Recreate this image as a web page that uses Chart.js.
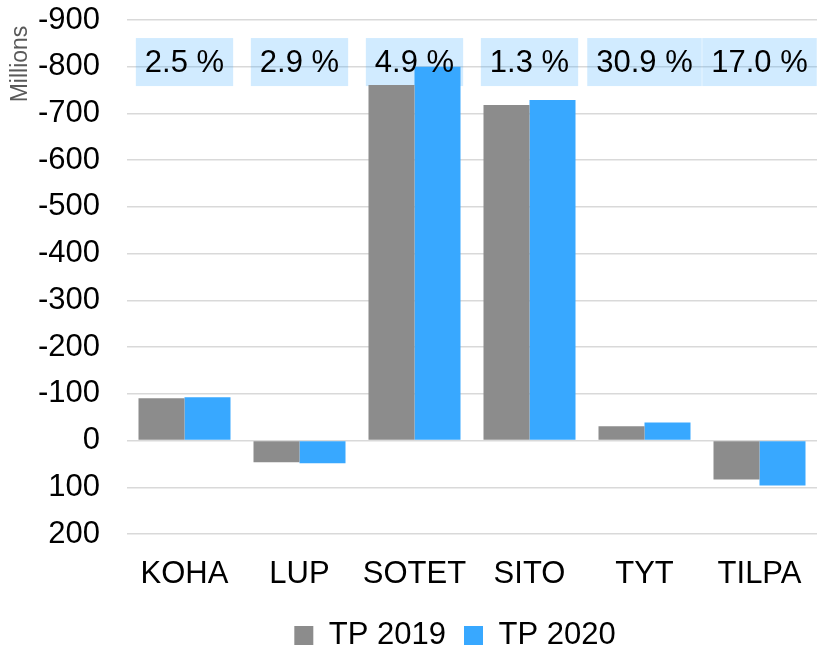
<!DOCTYPE html>
<html>
<head>
<meta charset="utf-8">
<script src="https://cdn.jsdelivr.net/npm/chart.js@4.4.1/dist/chart.umd.min.js"></script>
<style>
html,body{margin:0;padding:0;background:#fff;}
#wrap{width:817px;height:646px;}
</style>
</head>
<body>
<div id="wrap"><canvas id="c" width="817" height="646"></canvas></div>
<script>
const categories = ["KOHA", "LUP", "SOTET", "SITO", "TYT", "TILPA"];
const tp2019 = [-90.5, 46.5, -761, -718, -30.5, 83.5];
const tp2020 = [-92.5, 48.6, -800, -729, -38.6, 96.4];
const changeLabels = ["2.5 %", "2.9 %", "4.9 %", "1.3 %", "30.9 %", "17.0 %"];
const seriesNames = ["TP 2019", "TP 2020"];
const yTicks = [-900, -800, -700, -600, -500, -400, -300, -200, -100, 0, 100, 200];

const FONT = "'Liberation Sans', Arial, sans-serif";

const boxPlugin = {
  id: 'changeBoxes',
  afterLayout(chart) {
    const lg = chart.legend;
    if (lg) { lg.left -= 17; lg.right -= 17; lg.top += 17; lg.bottom += 17; }
  },
  beforeDatasetsDraw(chart) {
    const ctx = chart.ctx;
    const x = chart.scales.x, y = chart.scales.y;
    const cy = y.getPixelForValue(-810);
    const h = 48;
    ctx.save();
    ctx.font = "31px " + FONT;
    changeLabels.forEach((t, i) => {
      const cx = x.getPixelForValue(i);
      const w = ctx.measureText(t).width + 18;
      ctx.fillStyle = 'rgba(56,168,255,0.23)';
      ctx.fillRect(cx - w / 2, cy - h / 2, w, h);
    });
    ctx.restore();
  },
  afterDatasetsDraw(chart) {
    const ctx = chart.ctx;
    const x = chart.scales.x, y = chart.scales.y;
    const cy = y.getPixelForValue(-810);
    ctx.save();
    ctx.font = "31px " + FONT;
    ctx.fillStyle = '#000';
    ctx.textAlign = 'center';
    ctx.textBaseline = 'middle';
    changeLabels.forEach((t, i) => {
      ctx.fillText(t, x.getPixelForValue(i), cy + 1);
    });
    ctx.translate(21, 64);
    ctx.rotate(-Math.PI / 2);
    ctx.font = "23px " + FONT;
    ctx.fillStyle = '#595959';
    ctx.fillText('Millions', 0, 0);
    ctx.restore();
  }
};

new Chart(document.getElementById('c'), {
  type: 'bar',
  data: {
    labels: categories,
    datasets: [
      { label: seriesNames[0], data: tp2019, backgroundColor: '#8c8c8c' },
      { label: seriesNames[1], data: tp2020, backgroundColor: '#38a8ff' }
    ]
  },
  options: {
    responsive: false,
    devicePixelRatio: 1,
    animation: false,
    layout: { padding: { top: 0, right: 0, left: 0, bottom: 2 } },
    datasets: { bar: { categoryPercentage: 0.8, barPercentage: 1.0 } },
    scales: {
      x: {
        grid: { display: false },
        border: { display: false },
        ticks: { color: '#000', font: { family: FONT, size: 31 }, padding: 14 },
        afterFit(s) { s.height = 51; }
      },
      y: {
        reverse: true,
        min: -900,
        max: 200,
        afterBuildTicks(s) { s.ticks = yTicks.map(v => ({ value: v })); },
        grid: { color: '#d9d9d9', lineWidth: 1.5, drawTicks: false },
        border: { display: false },
        ticks: { color: '#000', font: { family: FONT, size: 31 }, padding: 27 },
        afterFit(s) { s.width = 127; s.paddingTop = 20; s.paddingBottom = 0; }
      }
    },
    plugins: {
      legend: {
        position: 'bottom',
        fullSize: false,
        labels: {
          color: '#000',
          font: { family: FONT, size: 31 },
          boxWidth: 19,
          boxHeight: 19,
          padding: 18
        }
      },
      tooltip: { enabled: false }
    }
  },
  plugins: [boxPlugin]
});
</script>
</body>
</html>
